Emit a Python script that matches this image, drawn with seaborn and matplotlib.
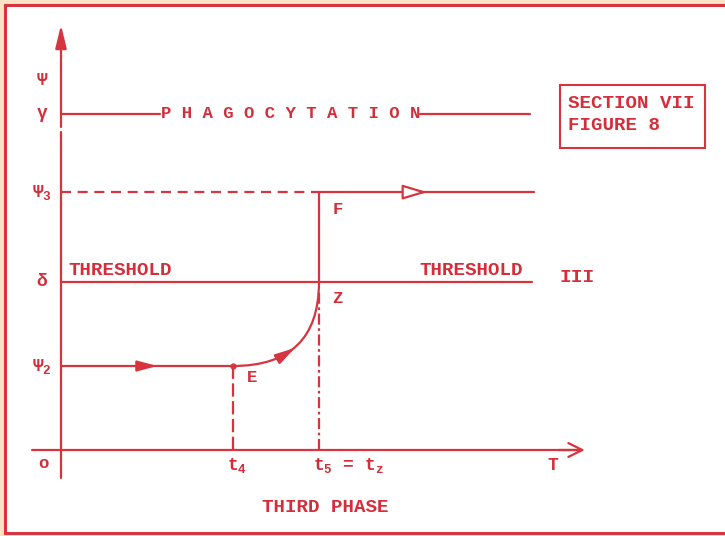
import matplotlib
matplotlib.use("Agg")
import matplotlib.pyplot as plt
import seaborn as sns
from matplotlib.patches import Rectangle, FancyArrowPatch, ArrowStyle

# ---------------- data ----------------
level_names = ["γ", "Ψ$_3$", "δ", "Ψ$_2$"]
level_values = [4.0, 3.07, 2.0, 1.0]
psi_top = 4.4            # position of the axis name "Ψ"
t_values = [2.0, 3.0]    # t4, t5 = tz
t_labels = ["t$_4$", "t$_5$ = t$_z$"]
line_end = 5.5
x_axis_end = 6.09
y_axis_end = 5.06
gamma_text = "P H A G O C Y T A T I O N"
threshold_text = "THRESHOLD"
point_labels = ["E", "Z", "F"]
phase_text = "THIRD PHASE"
box_lines = ["SECTION VII", "FIGURE 8"]

gamma, psi3, delta, psi2 = level_values
t4, t5 = t_values

# ---------------- style ----------------
sns.set_theme(style="white")
FONT = ["Liberation Mono", "DejaVu Sans Mono"]
plt.rcParams["font.family"] = FONT
plt.rcParams["font.weight"] = "bold"
plt.rcParams["mathtext.fontset"] = "custom"
plt.rcParams["mathtext.rm"] = "Liberation Mono:bold"
plt.rcParams["mathtext.it"] = "Liberation Mono:bold"
plt.rcParams["mathtext.bf"] = "Liberation Mono:bold"

RED = "#d8343f"
TXT = "#d42e3a"
PEACH = "#fde3c6"
LW = 1.6

fig = plt.figure(figsize=(7.25, 5.36), dpi=100)
fig.patch.set_facecolor(PEACH)
# white page with red frame
fig.patches.append(Rectangle((5 / 725, 3 / 536), 1.2, 528 / 536,
                             transform=fig.transFigure, facecolor="white",
                             edgecolor=RED, lw=2.2, zorder=-5))
ax = fig.add_axes([0, 0, 1, 1])
ax.set_zorder(2)
ax.set_xlim(-61 / 86, 664 / 86)
ax.set_ylim(-86 / 84, 450 / 84)
ax.axis("off")
ax.patch.set_alpha(0)


def seg(xs, ys, **kw):
    kw.setdefault("color", RED)
    kw.setdefault("lw", LW)
    sns.lineplot(x=xs, y=ys, ax=ax, legend=False, sort=False, estimator=None,
                 errorbar=None, **kw)


def txt(x, y, s, size=13, **kw):
    kw.setdefault("ha", "center")
    kw.setdefault("va", "center")
    ax.text(x, y, s, color=TXT, fontsize=size, fontweight="bold", family=FONT, **kw)


def arrow(tip, tail, style, hl, hw, **kw):
    kw.setdefault("color", RED)
    ax.annotate("", xy=tip, xytext=tail,
                arrowprops=dict(arrowstyle=ArrowStyle(style, head_length=hl, head_width=hw),
                                mutation_scale=1, lw=LW, shrinkA=0, shrinkB=0, **kw))


# axes (the hand-drawn vertical axis has a small break just below gamma)
seg([0, 0], [-0.33, 3.79])
seg([0, 0], [3.85, y_axis_end - 0.1])
seg([-0.34, x_axis_end - 0.05], [0, 0])
arrow((0, y_axis_end), (0, y_axis_end - 0.3), "-|>", 14, 3.4)
arrow((x_axis_end, 0), (x_axis_end - 0.3, 0), "->", 10, 5)

# gamma level (phagocytation)
seg([0, 1.15], [gamma, gamma])
seg([4.17, 5.45], [gamma, gamma])
txt(2.67, gamma, gamma_text, 12.5)

# psi3 level
seg([0, t5], [psi3, psi3], linestyle=(0, (4.5, 3)))
seg([t5, line_end], [psi3, psi3])
arrow((4.26, psi3), (4.0, psi3), "-|>", 15, 4.5, ec=RED, fc="white")

# threshold delta
seg([0, line_end - 0.02], [delta, delta])
txt(0.08, delta + 0.04, threshold_text, 13.8, ha="left", va="bottom")
txt(4.17, delta + 0.04, threshold_text, 13.8, ha="left", va="bottom")
txt(5.8, delta + 0.05, "III", 14, ha="left")

# psi2 level and path E -> Z -> F
seg([0, t4], [psi2, psi2])
arrow((1.12, psi2), (0.9, psi2), "-|>", 12, 3.2)
curve = FancyArrowPatch((t4, psi2), (t5, delta),
                        connectionstyle="angle3,angleA=0,angleB=90",
                        arrowstyle="-", color=RED, lw=LW, shrinkA=0, shrinkB=0)
ax.add_patch(curve)
arrow((2.72, 1.215), (2.55, 1.105), "-|>", 12, 3.2)
seg([t5, t5], [delta, psi3])
ax.plot([t4], [psi2], "o", color=RED, ms=3.5)

# projections onto the time axis
seg([t4, t4], [0, psi2], linestyle=(0, (6, 2)))
seg([t5, t5], [0, delta - 0.1], linestyle=(0, (5, 1.6, 1.2, 1.6)))

# level labels
txt(-0.22, psi_top, "Ψ", 13)
for name, v in zip(level_names, level_values):
    txt(-0.22, v, name, 13)
txt(-0.21, -0.155, "o", 12.5)

# time labels
for lab, t in zip(t_labels, t_values):
    txt(t - 0.07, -0.18, lab, 13, ha="left")
txt(5.72, -0.18, "T", 13)

# point labels
txt(t4 + 0.22, psi2 - 0.14, point_labels[0], 12.5)
txt(t5 + 0.21, delta - 0.2, point_labels[1], 12.5)
txt(t5 + 0.22, psi3 - 0.21, point_labels[2], 12.5)

# bottom caption
txt(3.07, -0.69, phase_text, 13.8)

# section box
ax.add_patch(Rectangle((5.80, 3.595), 1.69, 0.75, fc="white", ec=RED, lw=1.5))
txt(5.895, 4.13, box_lines[0], 13.8, ha="left")
txt(5.895, 3.86, box_lines[1], 13.8, ha="left")

fig.savefig("out.png", dpi=100, facecolor=fig.get_facecolor())
